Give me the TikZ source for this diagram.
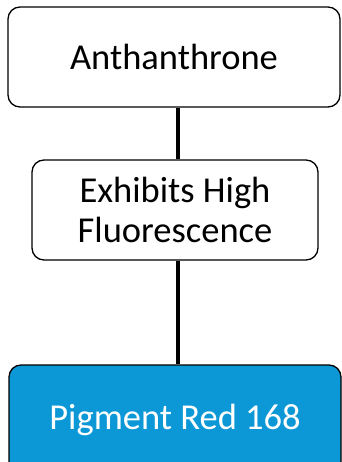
\documentclass[tikz,border=0pt]{standalone}
\usepackage{fontspec}
\setmainfont{Carlito}
\begin{document}
\begin{tikzpicture}[x=1pt,y=-1pt,
  box/.style={draw=black, line width=1.3pt, rounded corners=12pt, inner sep=0pt, align=center, font=\fontsize{36.5}{40}\selectfont},
  link/.style={line width=4pt, black}]
\useasboundingbox (0,0) rectangle (341,462);
\coordinate (spine) at (178,0);
\node[box, fill=white, minimum width=332pt, minimum height=100pt] (a) at (174,57) {Anthanthrone};
\node[box, fill=white, minimum width=286pt, minimum height=100pt] (b) at (175,210) {Exhibits High\\Fluorescence};
\node[box, fill={rgb,255:red,12;green,152;blue,214}, text=white, minimum width=332pt, minimum height=110pt] (c) at (175,420) {Pigment Red 168};
\draw[link] (a.south -| spine) -- (b.north -| spine);
\draw[link] (b.south -| spine) -- (c.north -| spine);
\end{tikzpicture}
\end{document}
